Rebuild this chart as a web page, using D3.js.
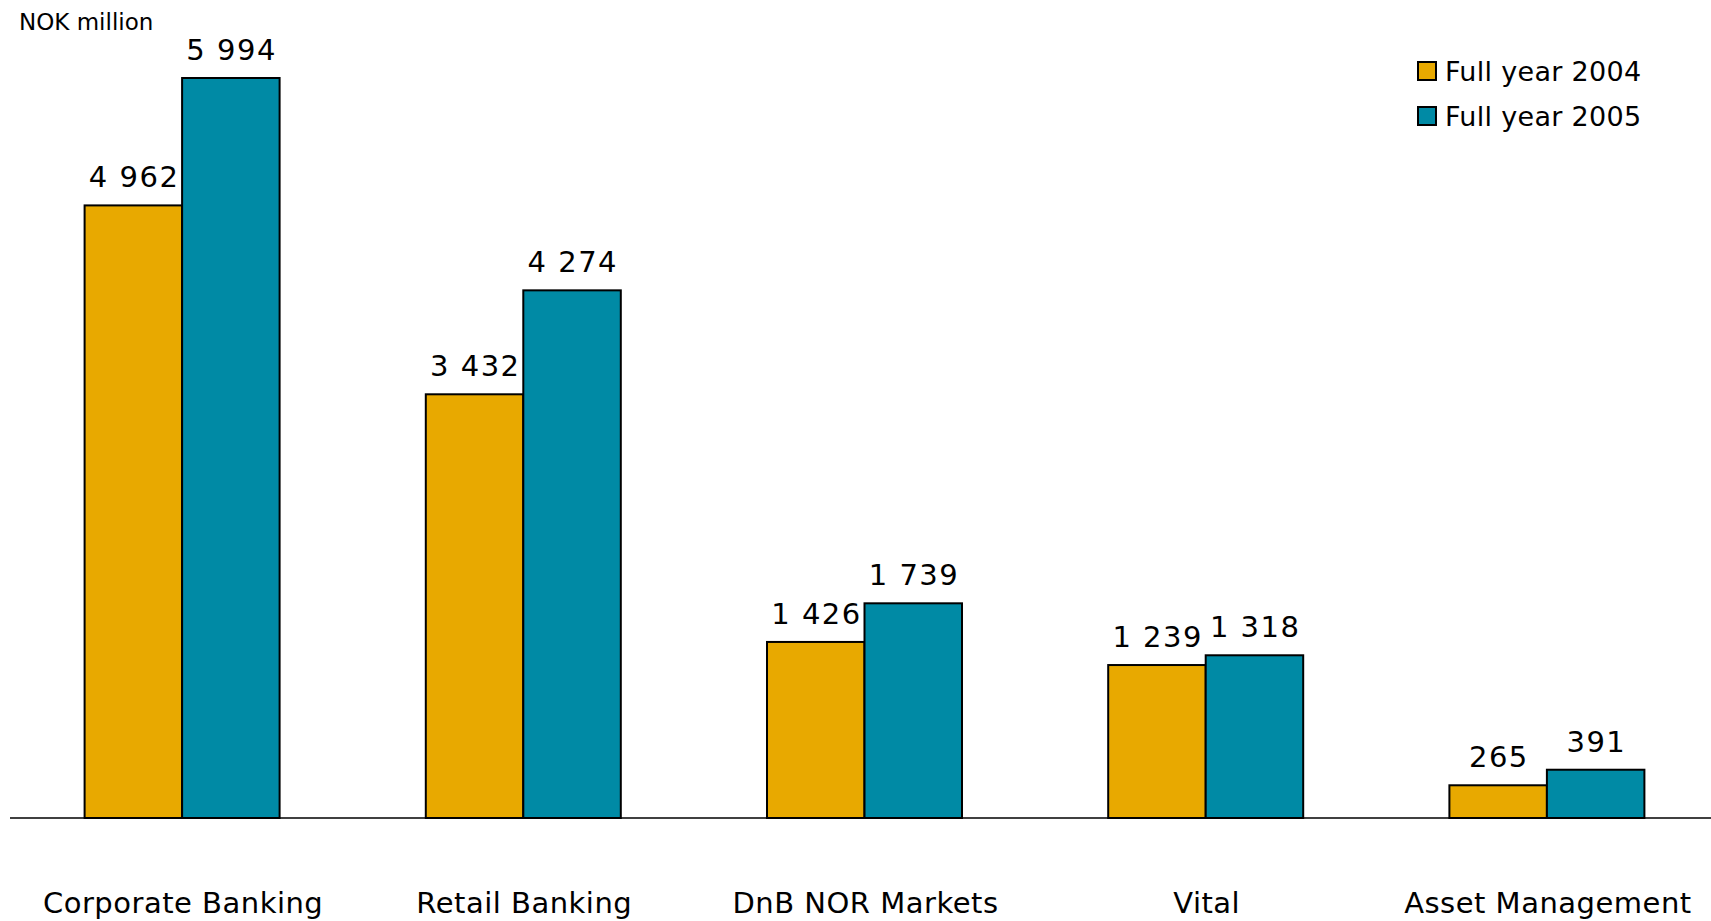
<!DOCTYPE html>
<html>
<head>
<meta charset="utf-8">
<script src="https://cdn.jsdelivr.net/npm/d3@7"></script>
<style>
  html, body { margin: 0; padding: 0; background: #ffffff; }
  svg { display: block; }
  text { font-family: "DejaVu Sans", Verdana, sans-serif; fill: #000; }
</style>
</head>
<body>
<script>
// Profit per business area, NOK million
const categories = ["Corporate Banking", "Retail Banking", "DnB NOR Markets", "Vital", "Asset Management"];
const seriesNames = ["Full year 2004", "Full year 2005"];
const values2004 = [4962, 3432, 1426, 1239, 265];
const values2005 = [5994, 4274, 1739, 1318, 391];
const colors = ["#E8A900", "#008AA5"];
const unitLabel = "NOK million";

const W = 1711, H = 921;
const baseY = 818;

const svg = d3.select("body").append("svg")
  .attr("width", W).attr("height", H);

const x0 = d3.scaleBand().domain(categories).range([11.5, 1717.5]).paddingInner(0).paddingOuter(0);
const x1 = d3.scaleBand().domain(seriesNames).range([0, 195]);
const y = d3.scaleLinear().domain([0, 5994]).range([baseY, 78]);

const rows = categories.map((c, i) => ({ cat: c, vals: [values2004[i], values2005[i]] }));

// axis line
svg.append("line")
  .attr("x1", 10).attr("x2", W)
  .attr("y1", baseY).attr("y2", baseY)
  .attr("stroke", "#000").attr("stroke-width", 1.5);

const groups = svg.selectAll("g.grp").data(rows).enter().append("g")
  .attr("class", "grp")
  .attr("transform", d => `translate(${x0(d.cat) + x0.bandwidth() / 2 - 97.5},0)`);

const fmt = v => d3.format(",")(v).replace(/,/g, " ");

groups.selectAll("rect").data(d => d.vals.map((v, k) => ({ v, k }))).enter().append("rect")
  .attr("x", d => x1(seriesNames[d.k]))
  .attr("y", d => y(d.v))
  .attr("width", x1.bandwidth())
  .attr("height", d => baseY - y(d.v))
  .attr("fill", d => colors[d.k])
  .attr("stroke", "#000").attr("stroke-width", 2);

groups.selectAll("text.val").data(d => d.vals.map((v, k) => ({ v, k }))).enter().append("text")
  .attr("class", "val")
  .attr("x", d => x1(seriesNames[d.k]) + x1.bandwidth() / 2 + 0.75)
  .attr("y", d => y(d.v) - 18)
  .attr("text-anchor", "middle")
  .attr("font-size", 29)
  .attr("letter-spacing", 1.5)
  .text(d => fmt(d.v));

// category labels
svg.selectAll("text.cat").data(categories).enter().append("text")
  .attr("class", "cat")
  .attr("x", d => x0(d) + x0.bandwidth() / 2 + 1)
  .attr("y", 913)
  .attr("text-anchor", "middle")
  .attr("font-size", 29)
  .attr("letter-spacing", 0.5)
  .text(d => d);

// unit label
svg.append("text")
  .attr("x", 19).attr("y", 30)
  .attr("font-size", 23)
  .text(unitLabel);

// legend
const leg = svg.append("g").attr("transform", "translate(1418,62)");
seriesNames.forEach((s, i) => {
  const g = leg.append("g").attr("transform", `translate(0,${i * 45})`);
  g.append("rect").attr("width", 18).attr("height", 18)
    .attr("fill", colors[i]).attr("stroke", "#000").attr("stroke-width", 2);
  g.append("text").attr("x", 27).attr("y", 18.5)
    .attr("font-size", 27).attr("letter-spacing", 0.3).text(s);
});
</script>
</body>
</html>
